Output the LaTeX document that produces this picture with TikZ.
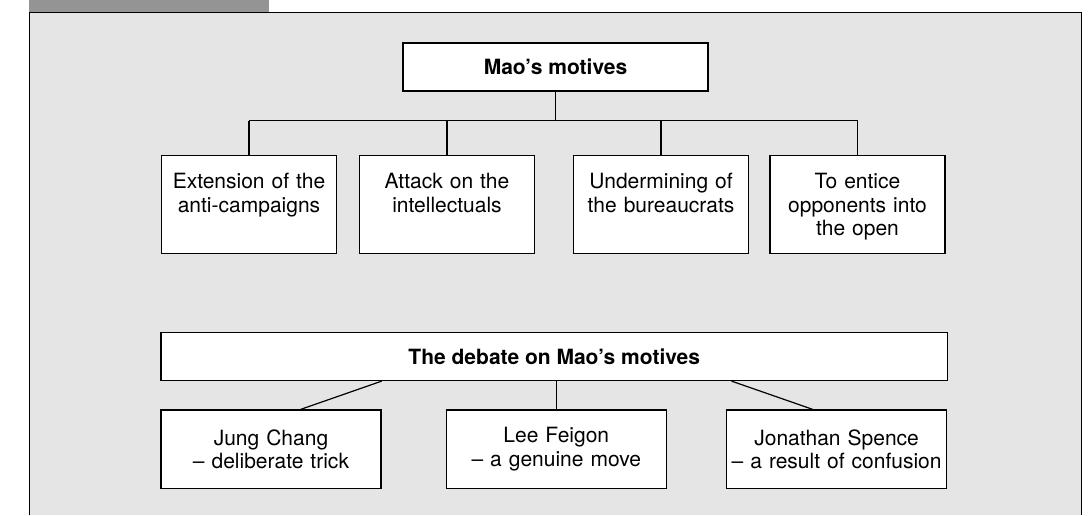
\documentclass[tikz,border=0pt]{standalone}
\usepackage{fontspec}
\setmainfont{TeX Gyre Heros}
\usepackage{xcolor}
\definecolor{panel}{gray}{0.90}
\definecolor{tabgray}{gray}{0.58}
\usepackage{tikz}
\usetikzlibrary{calc}

\begin{document}
\begin{tikzpicture}[x=0.5pt,y=0.5pt,font=\fontsize{10.5}{11.75}\selectfont,line width=0.6pt,
  head/.style={draw,fill=white,font=\fontsize{10.5}{11.75}\selectfont\bfseries,minimum height=24pt,inner sep=2pt},
  motive/.style={draw,fill=white,anchor=north,text width=83.5pt,align=center,inner xsep=2pt,inner ysep=4pt,text height=12.5pt,text depth=28.5pt},
  view/.style={draw,fill=white,anchor=north,text width=106pt,align=center,inner xsep=2pt,minimum height=39.25pt}]
  \useasboundingbox (0,0) rectangle (1090,515);
  % panel and tab
  \fill[panel] (29,0) rectangle (1081,502.5);
  \fill[tabgray] (29,503) rectangle (269,515);
  \draw[line width=0.5pt] (29,0) -- (29,502.5) -- (1081,502.5) -- (1081,0);
  % motives
  \node[head,minimum width=152.5pt] (mao) at (555.5,448) {Mao’s motives};
  \node[motive] (ext) at (249,360) {Extension of the\\anti-campaigns};
  \node[motive] (att) at (447,360) {Attack on the\\intellectuals};
  \node[motive] (und) at (661,360) {Undermining of\\the bureaucrats};
  \node[motive] (ent) at (857.5,360) {To entice\\opponents into\\the open};
  \coordinate (bus) at (555.5,394.3);
  \draw (mao.south) -- (mao.south |- bus);
  \draw (ext.north |- bus) -- (ent.north |- bus);
  \foreach \n in {ext,att,und,ent} \draw (\n.north) -- (\n.north |- bus);
  % debate
  \node[head,minimum width=393.25pt] (debate) at (554.25,158.5) {The debate on Mao’s motives};
  \node[view] (chang) at (271,105.7) {Jung Chang\\– deliberate trick};
  \node[view] (feigon) at (556.3,105.7) {Lee Feigon\\– a genuine move};
  \node[view] (spence) at (836.6,105.7) {Jonathan Spence\\– a result of confusion};
  \draw ($(debate.south west)!0.281!(debate.south east)$) -- ($(chang.north west)!0.635!(chang.north east)$);
  \draw (feigon.north) -- (feigon.north |- debate.south);
  \draw ($(debate.south west)!0.725!(debate.south east)$) -- ($(spence.north west)!0.391!(spence.north east)$);
\end{tikzpicture}
\end{document}
